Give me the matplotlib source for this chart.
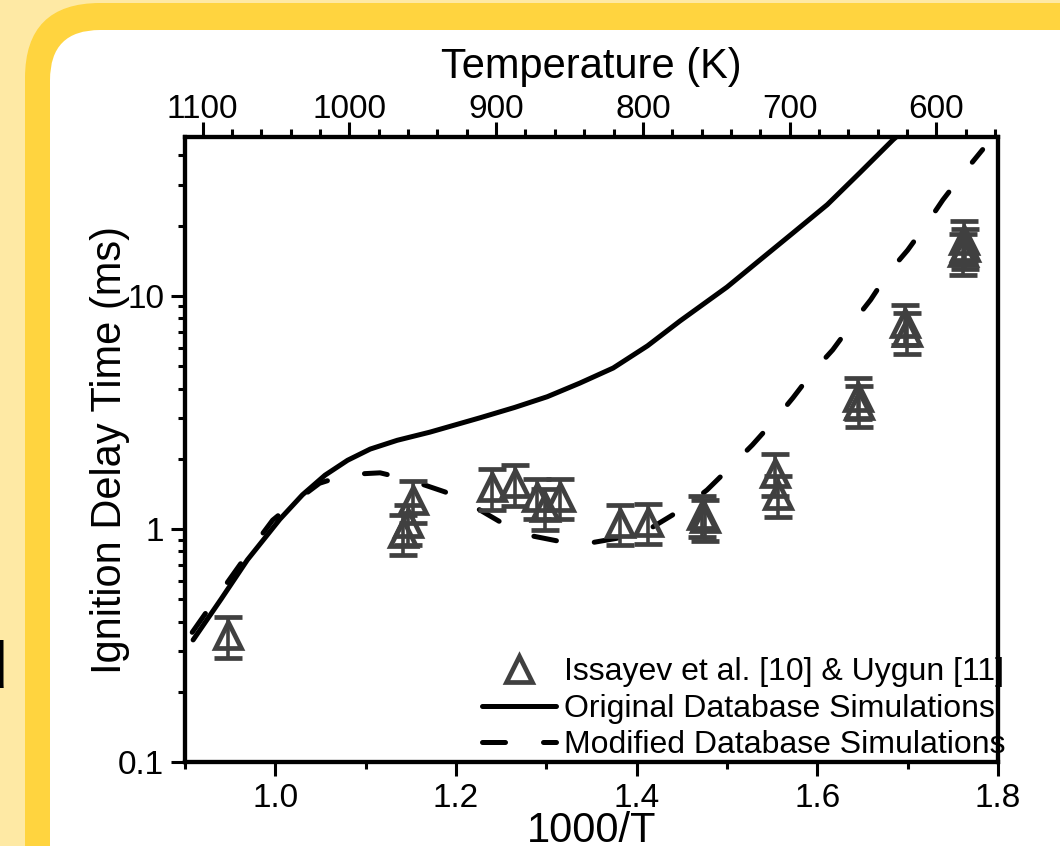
import matplotlib
matplotlib.use('Agg')
import matplotlib.pyplot as plt
from matplotlib.patches import FancyBboxPatch, Rectangle
from matplotlib.lines import Line2D
from matplotlib.ticker import FixedLocator, MultipleLocator, LogLocator, NullFormatter, FixedFormatter

plt.rcParams['font.family'] = ['Liberation Sans', 'DejaVu Sans']

# ---------------- data ----------------
orig_x = [0.909, 0.940, 0.969, 1.005, 1.030, 1.055, 1.080, 1.105, 1.135, 1.171,
          1.227, 1.265, 1.301, 1.337, 1.374, 1.412, 1.448, 1.500, 1.537, 1.573,
          1.611, 1.647, 1.684, 1.690]
orig_y = [0.334, 0.50, 0.736, 1.10, 1.40, 1.70, 1.97, 2.20, 2.40, 2.60,
          3.00, 3.32, 3.69, 4.22, 4.90, 6.10, 7.80, 10.9, 14.3, 18.6,
          24.6, 33.7, 46.8, 49.0]

mod_x = [0.908, 0.933, 0.974, 0.997, 1.022, 1.049, 1.079, 1.116, 1.149, 1.188,
         1.218, 1.251, 1.280, 1.318, 1.349, 1.387, 1.418, 1.454, 1.478, 1.506,
         1.528, 1.553, 1.573, 1.595, 1.617, 1.639, 1.659, 1.679, 1.700, 1.722,
         1.739, 1.762, 1.783]
mod_y = [0.36, 0.495, 0.828, 1.09, 1.31, 1.57, 1.71, 1.74, 1.62, 1.44,
         1.26, 1.06, 0.94, 0.879, 0.871, 0.924, 1.02, 1.24, 1.47, 1.88,
         2.29, 2.94, 3.65, 4.72, 5.86, 7.65, 9.61, 12.6, 15.7, 20.6,
         25.8, 33.7, 42.4]

exp_x = [0.948, 1.152, 1.147, 1.141, 1.240, 1.265, 1.290, 1.299, 1.315, 1.382,
         1.412, 1.472, 1.476, 1.553, 1.557, 1.645, 1.646, 1.697, 1.699, 1.762,
         1.764, 1.761]
exp_y = [0.35, 1.33, 1.06, 0.96, 1.51, 1.57, 1.37, 1.24, 1.37, 1.06,
         1.07, 1.15, 1.11, 1.74, 1.40, 3.69, 3.41, 7.66, 7.00, 17.4,
         16.2, 15.4]
exp_err = [0.07, 0.27, 0.21, 0.19, 0.30, 0.31, 0.27, 0.25, 0.27, 0.21,
           0.21, 0.23, 0.22, 0.35, 0.28, 0.74, 0.68, 1.5, 1.4, 3.5,
           3.2, 3.1]

x_ticks = [1.0, 1.2, 1.4, 1.6, 1.8]
x_tick_labels = ['1.0', '1.2', '1.4', '1.6', '1.8']
y_ticks = [0.1, 1, 10]
y_tick_labels = ['0.1', '1', '10']
temp_ticks = [1100, 1000, 900, 800, 700, 600]
temp_tick_labels = ['1100', '1000', '900', '800', '700', '600']
legend_labels = ['Issayev et al. [10] & Uygun [11]',
                 'Original Database Simulations',
                 'Modified Database Simulations']

# ---------------- figure & background ----------------
W, H = 1060, 846
fig = plt.figure(figsize=(W / 100, H / 100), dpi=100)
bg = fig.add_axes([0, 0, 1, 1], zorder=-10)
bg.set_xlim(0, W)
bg.set_ylim(H, 0)
bg.axis('off')
bg.add_patch(Rectangle((0, 0), W, H, facecolor='#FEE9A4', edgecolor='none'))
bg.add_patch(FancyBboxPatch((25, 3), 2000, 2000,
                            boxstyle='round,pad=0,rounding_size=75',
                            facecolor='#FFD43F', edgecolor='none'))
bg.add_patch(FancyBboxPatch((50, 30), 2000, 2000,
                            boxstyle='round,pad=0,rounding_size=50',
                            facecolor='white', edgecolor='none'))
bg.text(7, 687, 'd', ha='right', va='baseline', fontsize=48, color='black')

# ---------------- main axes ----------------
L, R, T, B = 185, 998, 137, 762
ax = fig.add_axes([L / W, (H - B) / H, (R - L) / W, (B - T) / H])
ax.set_facecolor('none')
ax.set_yscale('log')
ax.set_xlim(0.9, 1.8)
ax.set_ylim(0.1, 48)

lw = 3.6
dash = (4.6, 7.6)
ax.plot(orig_x, orig_y, color='black', lw=lw, solid_capstyle='round',
        solid_joinstyle='round', zorder=3)
ax.plot(mod_x, mod_y, color='black', lw=lw, dashes=dash,
        dash_capstyle='round', dash_joinstyle='round', zorder=3)

gray = '#404040'
ax.errorbar(exp_x, exp_y, yerr=exp_err, fmt='^', ms=19, mfc='none', mec=gray,
            mew=3.4, ecolor=gray, elinewidth=2.6, capsize=10, capthick=2.6,
            zorder=4)

for s in ax.spines.values():
    s.set_linewidth(3)

ax.xaxis.set_major_locator(FixedLocator(x_ticks))
ax.xaxis.set_major_formatter(FixedFormatter(x_tick_labels))
ax.xaxis.set_minor_locator(MultipleLocator(0.1))
ax.yaxis.set_major_locator(FixedLocator(y_ticks))
ax.yaxis.set_major_formatter(FixedFormatter(y_tick_labels))
ax.yaxis.set_minor_locator(LogLocator(base=10, subs=range(2, 10)))
ax.yaxis.set_minor_formatter(NullFormatter())

ax.tick_params(which='both', direction='out', top=False, right=False, width=2.2)
ax.tick_params(which='major', length=10, labelsize=24, pad=5)
ax.tick_params(which='minor', length=5)

ax.set_xlabel('1000/T', fontsize=30, labelpad=-2)
ax.set_ylabel('Ignition Delay Time (ms)', fontsize=30, va='center')
ax.yaxis.set_label_coords(-0.092, 0.5)

# ---------------- top temperature axis ----------------
ax2 = ax.twiny()
ax2.set_xlim(1112, 558)
ax2.xaxis.set_major_locator(FixedLocator(temp_ticks))
ax2.xaxis.set_major_formatter(FixedFormatter(temp_tick_labels))
ax2.xaxis.set_minor_locator(MultipleLocator(20))
ax2.tick_params(axis='x', which='both', direction='out', width=2.2)
ax2.tick_params(axis='x', which='major', length=11, labelsize=24, pad=-2)
ax2.tick_params(axis='x', which='minor', length=6)
ax2.set_xlabel('Temperature (K)', fontsize=30, labelpad=11)
for s in ax2.spines.values():
    s.set_linewidth(3)

# ---------------- legend ----------------
handles = [
    Line2D([], [], ls='none', marker='^', ms=19, mfc='none', mec=gray, mew=3.4),
    Line2D([], [], color='black', lw=lw, solid_capstyle='round'),
    Line2D([], [], color='black', lw=lw, dashes=dash, dash_capstyle='round'),
]
ax.legend(handles, legend_labels, loc='lower right', bbox_to_anchor=(1.009, 0.003),
          frameon=False, fontsize=23, handlelength=2.3, handletextpad=0.25,
          labelspacing=0.2, borderpad=0, borderaxespad=0)

fig.savefig('out.png', dpi=100)
